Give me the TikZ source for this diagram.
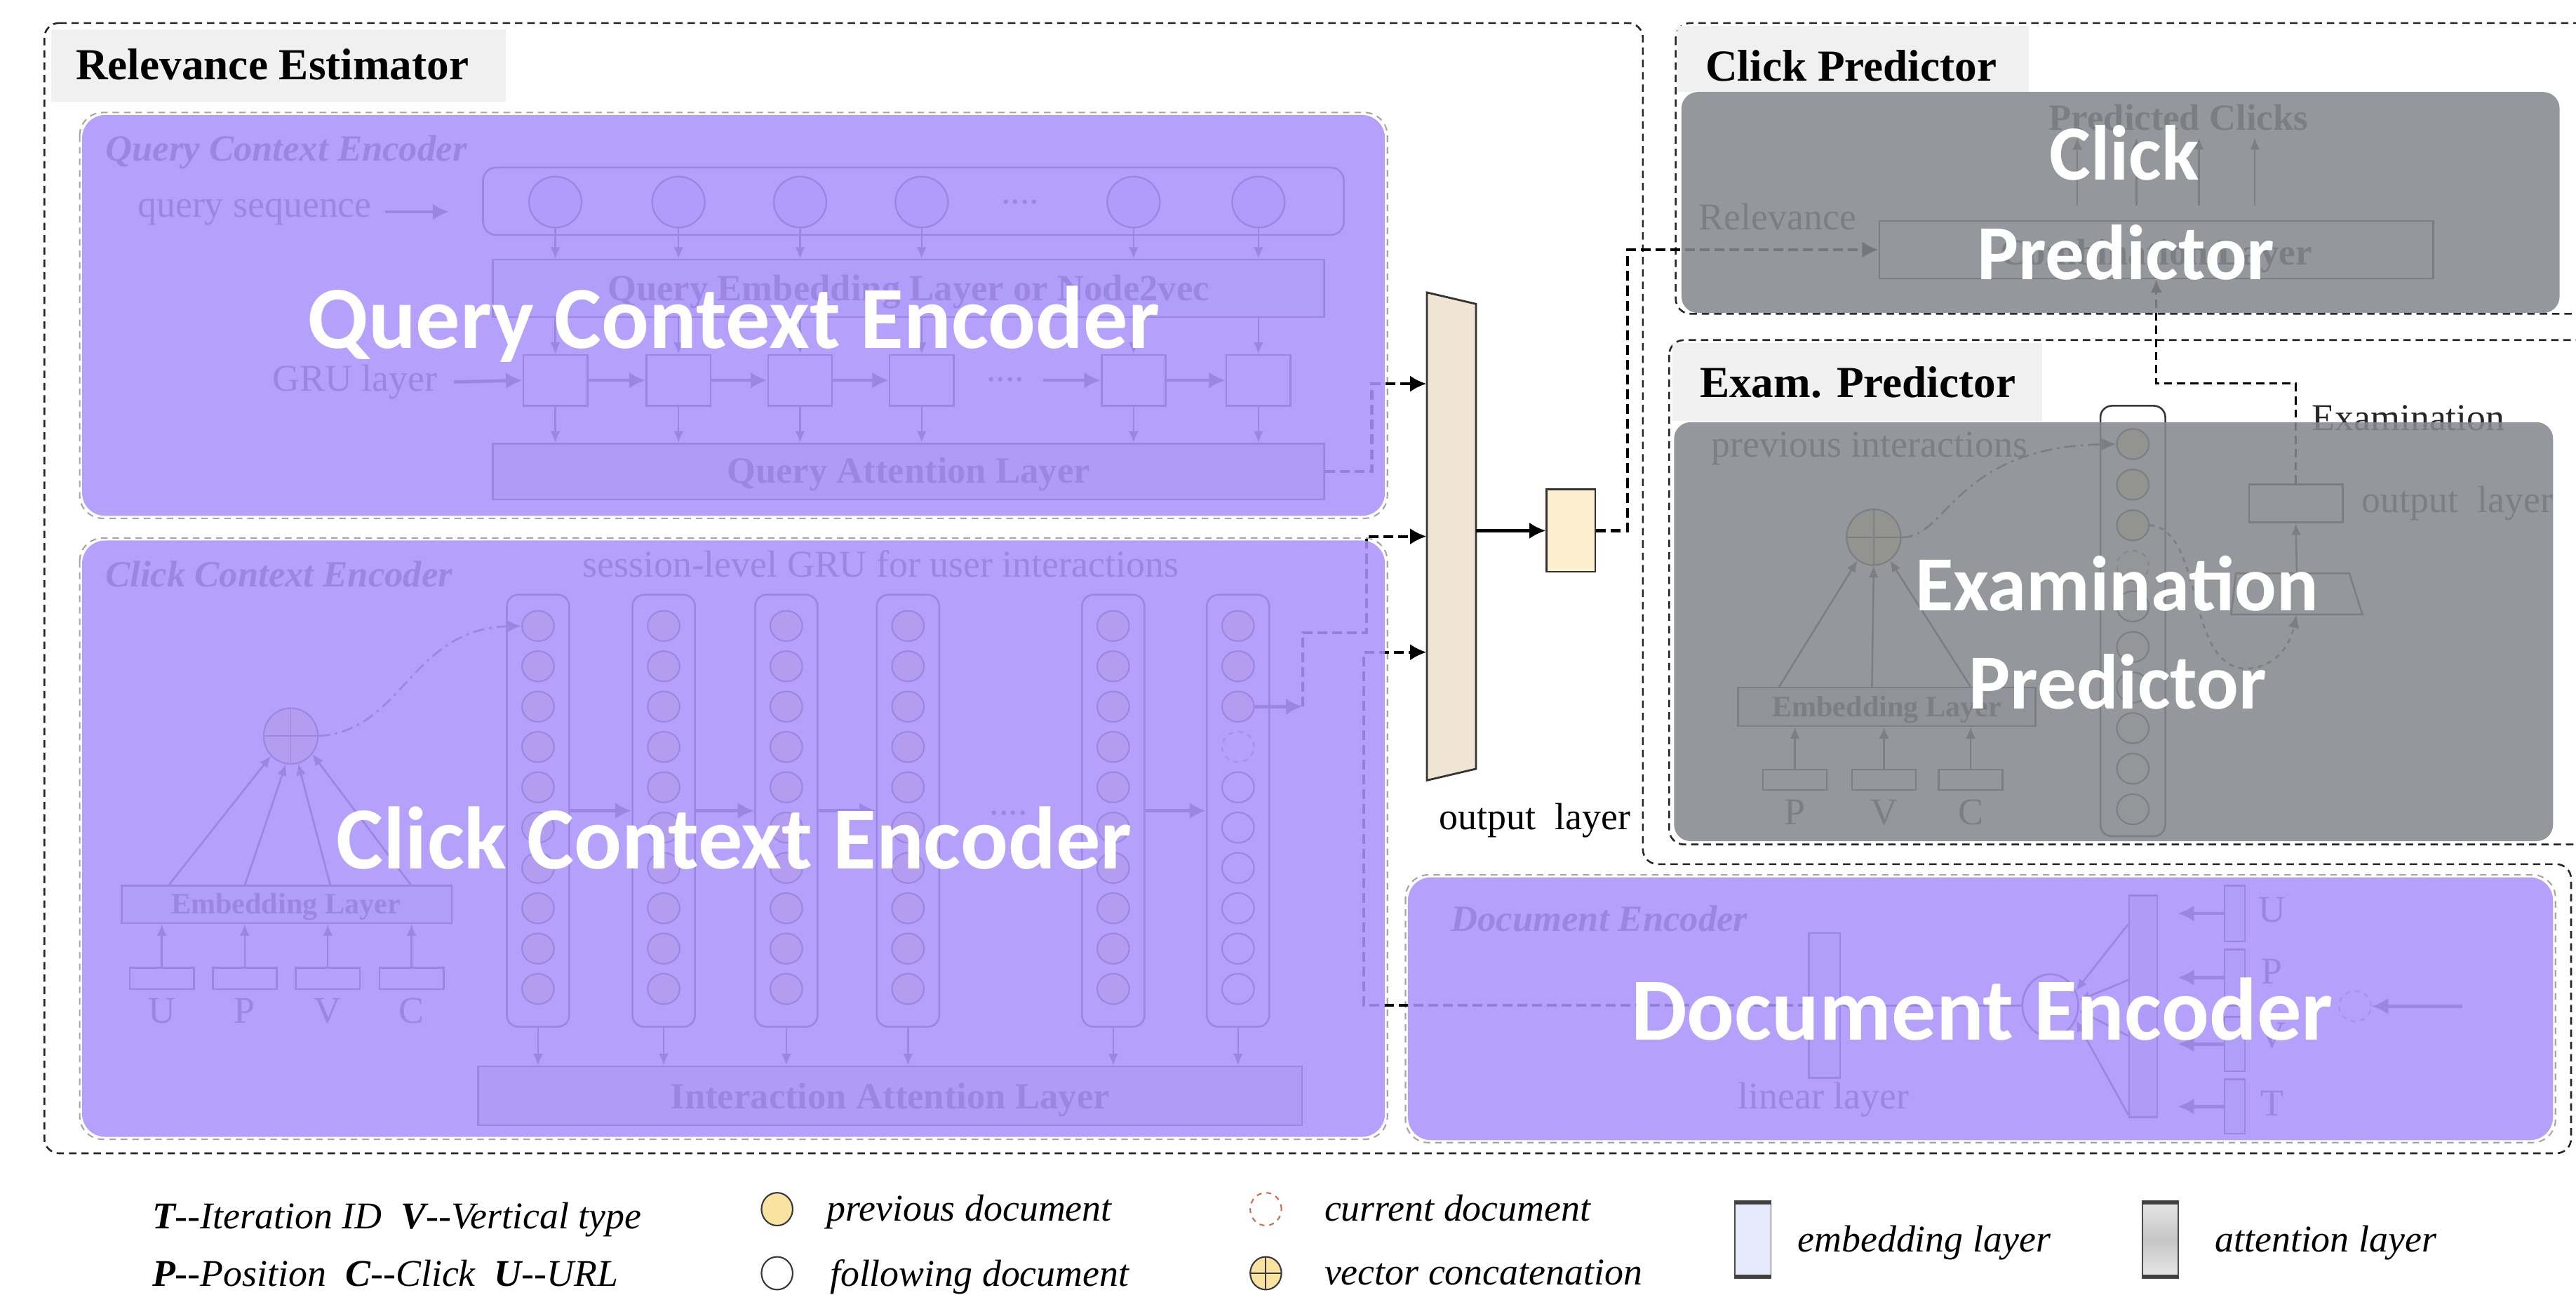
\documentclass[tikz,border=0pt]{standalone}
\usepackage{fontspec}
\setmainfont{Liberation Serif}
\newfontfamily\bigsans{Carlito}
\usetikzlibrary{arrows.meta,shapes.geometric,calc}

\definecolor{ink}{RGB}{55,55,60}
\definecolor{prevdoc}{RGB}{249,227,160}
\definecolor{curdoc}{RGB}{200,112,78}
\definecolor{embfill}{RGB}{230,234,251}
\definecolor{attfill}{RGB}{222,222,222}
\definecolor{outfill}{RGB}{240,228,212}
\definecolor{relfill}{RGB}{252,239,207}
\definecolor{tagfill}{RGB}{240,240,240}
\definecolor{qfill}{RGB}{236,224,246}
\definecolor{lilac}{RGB}{170,147,252}
\definecolor{slate}{RGB}{133,137,141}

\tikzset{
  ln/.style={draw=ink, line width=1.1pt},
  arr/.style={ln, -{Latex[length=7pt,width=6pt]}},
  fatarr/.style={draw=ink, line width=2pt, -{Latex[length=10pt,width=10pt]}},
  wire/.style={draw=black, line width=1.8pt, dash pattern=on 6pt off 3pt},
  wirearr/.style={wire, -{Latex[length=10pt,width=10pt]}},
  thinwire/.style={draw=black, line width=1.3pt, dash pattern=on 5pt off 3pt, -{Latex[length=8pt,width=7pt]}},
  outline/.style={draw=black!85, line width=1.1pt, dash pattern=on 4.5pt off 3pt, rounded corners=9pt},
  subframe/.style={draw=black!35, line width=0.9pt, dash pattern=on 4pt off 3pt, rounded corners=14pt},
  box/.style={rectangle, ln, inner sep=0},
  doc/.style={ellipse, draw=ink, line width=0.9pt, minimum width=19.5pt, minimum height=18.5pt, inner sep=0},
  prev/.style={doc, fill=prevdoc},
  follow/.style={doc, fill=white},
  cur/.style={doc, draw=curdoc, dashed, fill=white},
  concat/.style={ellipse, draw=ink, fill=prevdoc, line width=0.9pt, inner sep=0,
     path picture={\draw[ink, line width=0.8pt] (path picture bounding box.north) -- (path picture bounding box.south) (path picture bounding box.west) -- (path picture bounding box.east);}},
  lbl/.style={text=ink, font=\fontsize{22.5}{26}\selectfont\bfseries, inner sep=0},
  smalllbl/.style={text=ink, font=\fontsize{18}{20}\selectfont\bfseries, inner sep=0, anchor=base},
  txt/.style={text=ink, font=\fontsize{23}{26}\selectfont, inner sep=0},
  ital/.style={text=ink, font=\fontsize{22.5}{26}\selectfont\bfseries\itshape, inner sep=0, anchor=base west},
  tagtext/.style={font=\fontsize{27}{30}\selectfont\bfseries, inner sep=0, anchor=base west},
  veil/.style={fill=lilac, opacity=.87, rounded corners=14pt},
  greyveil/.style={fill=slate, opacity=.88, rounded corners=10pt},
  big/.style={text=white, font=\bigsans\bfseries\fontsize{54}{58}\selectfont, inner sep=0, anchor=base},
  bigp/.style={text=white, font=\bigsans\bfseries\fontsize{47.5}{52}\selectfont, inner sep=0, anchor=base},
  legend/.style={font=\fontsize{23}{26}\selectfont\itshape, inner sep=0, anchor=base west},
}

\begin{document}
\begin{tikzpicture}[x=1pt,y=-1pt]
\useasboundingbox (0,0) rectangle (1568,788);
\clip (0,0) rectangle (1568,788);

% ---------------- module frames ----------------
\draw[outline] (27,14) -- (1000,14) -- (1000,526) -- (1565,526) -- (1565,702) -- (27,702) -- cycle;
\draw[outline] (1020,14) rectangle (1590,191);
\draw[outline] (1016,207) rectangle (1590,514);

\fill[tagfill] (31,18) rectangle (308,62);
\node[tagtext] (retitle) at (46,48.4) {Relevance Estimator};
\fill[tagfill] (1021,16) rectangle (1235,56);
\node[tagtext] (cptitle) at (1038,49.4) {Click Predictor};
\fill[tagfill] (1018,209) rectangle (1243,256);
\node[tagtext] (eptitle) at (1034.5,241.7) {Exam. Predictor};

\draw[subframe] (48.5,68.5) rectangle (844.5,315.5);
\draw[subframe] (48.5,327.5) rectangle (844.5,693.5);
\draw[subframe] (855.5,532.5) rectangle (1555.5,695.5);

% ---------------- query context encoder ----------------
\node[ital] (qtitle) at (64,98) {Query Context Encoder};
\node[txt, anchor=base] (qseq) at (155,132) {query sequence};
\node[box, rounded corners=8pt, minimum width=524pt, minimum height=41pt] (qs) at (556,122.5) {};
\node[box, fill=embfill, minimum width=506pt, minimum height=35pt] (qe) at (553,175.5) {};
\node[lbl, anchor=base] (qetext) at (553,183) {Query Embedding Layer or Node2vec};
\node[box, fill=attfill, minimum width=506pt, minimum height=34pt] (qa) at (553,287) {};
\node[lbl, anchor=base] (qatext) at (553,294) {Query Attention Layer};
\foreach \ci/\x in {1/338,2/413,3/487,4/561,5/690,6/766} {
  \node[ellipse, draw=ink, fill=qfill, line width=1pt, minimum width=32pt, minimum height=31pt, inner sep=0] (q\ci) at (\x,123) {};
  \node[box, minimum width=39pt, minimum height=31pt] (g\ci) at (\x,231.5) {};
  \draw[arr] (q\ci.south) -- (q\ci.south |- qe.north);
  \draw[arr] (g\ci.north |- qe.south) -- (g\ci.north);
  \draw[arr] (g\ci.south) -- (g\ci.south |- qa.north);
}
\draw[fatarr] ($(qseq.east)+(8,0)$) -- ($(qseq.east)+(47,0)$);
\node[txt, anchor=base] (qdots) at (621,124) {....};
\node[txt, anchor=base] (grul) at (216,238) {GRU layer};
\draw[fatarr] ($(grul.east)+(10,0)$) -- (g1.west);
\draw[fatarr] (g1.east) -- (g2.west);
\draw[fatarr] (g2.east) -- (g3.west);
\draw[fatarr] (g3.east) -- (g4.west);
\node[txt, anchor=base] (gdots) at (612,232) {....};
\draw[fatarr] ($(g5.west)+(-35,0)$) -- (g5.west);
\draw[fatarr] (g5.east) -- (g6.west);

% ---------------- click context encoder ----------------
\node[ital] (ctitle) at (64,357) {Click Context Encoder};
\node[txt, anchor=base] (sess) at (536,351) {session-level GRU for user interactions};
\foreach \ci/\x in {1/327.5,2/404,3/478.6,4/552.7,5/677.6,6/753.6} {
  \node[box, rounded corners=7pt, minimum width=38pt, minimum height=263pt] (col\ci) at (\x,493.5) {};
}
\foreach \ci/\x in {1/327.5,2/404,3/478.6,4/552.7,5/677.6} {
  \foreach \kk in {0,...,9} {
    \node[prev] (c\ci\kk) at (\x,{381+24.55*\kk}) {};
  }
}
\foreach \kk in {0,1,2} \node[prev] (c6\kk) at (753.6,{381+24.55*\kk}) {};
\node[cur] (c63) at (753.6,{381+24.55*3}) {};
\foreach \kk in {4,...,9} \node[follow] (c6\kk) at (753.6,{381+24.55*\kk}) {};
\draw[fatarr] (col1.east) -- (col2.west);
\draw[fatarr] (col2.east) -- (col3.west);
\draw[fatarr] (col3.east) -- (col4.west);
\draw[fatarr] (col5.east) -- (col6.west);
\node[txt, anchor=base] (cdots) at (614,496) {....};

\node[concat, minimum width=33pt, minimum height=34pt] (cc) at (177,448) {};
\node[box, fill=embfill, minimum width=201pt, minimum height=23pt] (cemb) at (174.5,550.5) {};
\node[smalllbl] (cembtext) at (174,556) {Embedding Layer};
\foreach \n/\x/\lab in {1/98.5/U,2/149/P,3/199.5/V,4/250.5/C} {
  \node[box, minimum width=39pt, minimum height=13pt] (cin\n) at (\x,595.5) {};
  \node[txt, anchor=base] (cinl\n) at (\x,623) {\lab};
  \draw[arr] (cin\n.north) -- (cin\n.north |- cemb.south);
}
\draw[arr] ([xshift=29.5pt]cemb.north west) -- (cc.225);
\draw[arr] ([xshift=75.7pt]cemb.north west) -- (cc.260);
\draw[arr] ([xshift=127.5pt]cemb.north west) -- (cc.285);
\draw[arr] ([xshift=176.5pt]cemb.north west) -- (cc.320);
\draw[ln, dash pattern=on 7pt off 3pt on 1.5pt off 3pt, -{Latex[length=9pt,width=8pt]}]
  (cc.east) .. controls (245,445) and (250,383) .. (c10.west);

\node[box, fill=attfill, minimum width=501.5pt, minimum height=36pt] (ia) at (541.75,667) {};
\node[lbl, anchor=base] (iatext) at (541.75,675) {Interaction Attention Layer};
\foreach \ci in {1,...,6} \draw[arr] (col\ci.south) -- (col\ci.south |- ia.north);

% ---------------- document encoder ----------------
\node[ital] (dtitle) at (883,567) {Document Encoder};
\node[box, fill=embfill, minimum width=19pt, minimum height=88pt] (lin) at (1110.5,612) {};
\node[txt, anchor=base] (lintext) at (1110,675) {linear layer};
\node[ellipse, ln, minimum width=34pt, minimum height=38pt, inner sep=0] (dcirc) at (1248,612) {};
\node[box, fill=attfill, minimum width=17pt, minimum height=135pt] (datt) at (1304.5,612.5) {};
\draw[arr] ([yshift=50pt]datt.west) -- (dcirc.30);
\draw[arr] ([yshift=16pt]datt.west) -- (dcirc.10);
\draw[arr] ([yshift=-18pt]datt.west) -- (dcirc.-10);
\draw[arr] ([yshift=-66pt]datt.west) -- (dcirc.-30);
\draw[arr] (dcirc.west) -- (lin.east);
\foreach \n/\y/\hh/\bl in {U/556/34/561.5, P/595/34/599, V/635.5/33/637.6, T/673.5/33/679} {
  \node[box, fill=embfill, minimum width=12.5pt, minimum height=\hh pt] (d\n) at (1360.25,\y) {};
  \node[txt, anchor=base] (dl\n) at (1383,\bl) {\n};
  \draw[fatarr, shorten >=12pt] (d\n.west) -- (d\n.west -| datt.east);
}
\node[cur] (dcur) at (1433.5,612.5) {};
\draw[fatarr] ([xshift=55pt]dcur.east) -- (dcur.east);

% ---------------- output layer of the relevance estimator ----------------
\filldraw[fill=outfill, draw=black!80, line width=1.2pt] (868.5,178) -- (898.4,185) -- (898.4,468) -- (868.5,475) -- cycle;
\node[minimum width=29.9pt, minimum height=297pt, inner sep=0] (ol) at (883.45,326.5) {};
\node[txt, text=black, anchor=base west] (oltext) at (876,505) {output\ \ layer};
\node[box, draw=black!80, fill=relfill, line width=1.2pt, minimum width=29.5pt, minimum height=50pt] (rel) at (956.25,323) {};
\draw[black, line width=1.8pt, -{Latex[length=10pt,width=10pt]}] (ol.east |- rel.west) -- (rel.west);

\draw[wirearr] (qa.east) -- ++(28.5,0) |- ([yshift=92.9pt]ol.west);
\draw[fatarr] (c62.east) -- ++(29,0) coordinate (cout);
\draw[wirearr] (cout) -- ++(0,-45) -- ++(39,0) |- (ol.west);
\draw[wirearr] (lin.west) -- ++(-270.5,0) |- ([yshift=-70.5pt]ol.west);

% ---------------- click predictor ----------------
\node[box, minimum width=337pt, minimum height=35pt] (comb) at (1312.5,152) {};
\node[lbl, anchor=base] (combtext) at (1312.5,161) {Combination Layer};
\node[lbl, anchor=base] (pctext) at (1326,79) {Predicted Clicks};
\foreach \dx in {121,157,195,229} \draw[arr] ($(comb.north west)+(\dx,-9)$) -- ++(0,-41);
\node[txt, anchor=base] (reltext) at (1082,140) {Relevance};
\draw[wire, -{Latex[length=10pt,width=10pt]}] (rel.east) -- ++(19,0) |- (comb.west);

% ---------------- examination predictor ----------------
\node[txt, anchor=base] (prevint) at (1138,278) {previous interactions};
\node[box, rounded corners=7pt, minimum width=39.5pt, minimum height=262pt] (ecol) at (1298.25,378) {};
\foreach \kk in {0,1,2} \node[prev] (e\kk) at (1298.25,{270.3+24.7*\kk}) {};
\node[cur] (e3) at (1298.25,{270.3+24.7*3}) {};
\foreach \kk in {4,...,9} \node[follow] (e\kk) at (1298.25,{270.3+24.7*\kk}) {};
\node[concat, minimum width=33pt, minimum height=34pt] (ec) at (1140.5,327) {};
\node[box, fill=embfill, minimum width=181pt, minimum height=23.5pt] (eemb) at (1148.5,430.25) {};
\node[smalllbl] (eembtext) at (1148.5,436) {Embedding Layer};
\foreach \n/\x/\lab in {1/1092.5/P,2/1146.75/V,3/1199.5/C} {
  \node[box, minimum width=39pt, minimum height=12.3pt] (ein\n) at (\x,474.6) {};
  \node[txt, anchor=base] (einl\n) at (\x,502) {\lab};
  \draw[arr] (ein\n.north) -- (ein\n.north |- eemb.south);
}
\draw[arr] ([xshift=25.5pt]eemb.north west) -- (ec.235);
\draw[arr] ([xshift=82pt]eemb.north west) -- (ec.270);
\draw[arr] ([xshift=142pt]eemb.north west) -- (ec.305);
\draw[ln, dash pattern=on 7pt off 3pt on 1.5pt off 3pt, -{Latex[length=9pt,width=8pt]}]
  (ec.east) .. controls (1185,328) and (1190,272) .. (e0.west);
\node[box, minimum width=57pt, minimum height=23.2pt] (eout) at (1397.5,306.4) {};
\node[txt, anchor=base west] (eouttext) at (1437.5,312) {output\ \ layer};
\draw[ln] (1361,349) -- (1430,349) -- (1438,374) -- (1358,374) -- cycle;
\node[minimum width=80pt, minimum height=25pt, inner sep=0] (etz) at (1398,361.5) {};
\draw[arr] (etz.north) -- (eout.south);
\draw[ln, dashed, -{Latex[length=8pt,width=7pt]}]
  (e2.east) .. controls (1342,322) and (1330,408) .. (1368,407) .. controls (1386,406) and (1394,392) .. (etz.south);
\node[txt, text=black!85, anchor=base west] (examtext) at (1407,262) {Examination};
\draw[thinwire] (eout.north) |- ($(comb.south)+(0,63.5)$) -- (comb.south);

% ---------------- highlight panels ----------------
\fill[veil] (50,70) rectangle (843,314);
\fill[veil] (50,329) rectangle (843,692);
\fill[veil] (857,534) rectangle (1554,694);
\fill[greyveil] (1023.5,56) rectangle (1558,190.5);
\fill[greyveil] (1019,257) rectangle (1554,512);

\node[big] (qbig) at (446.5,212) {Query Context Encoder};
\node[big] (cbig) at (447,529) {Click Context Encoder};
\node[big] (dbig) at (1206.5,633) {Document Encoder};
\node[bigp] (cpbig1) at (1293,109.5) {Click};
\node[bigp] (cpbig2) at (1294,170) {Predictor};
\node[bigp] (epbig1) at (1288.5,371.5) {Examination};
\node[bigp] (epbig2) at (1289,431.7) {Predictor};

% ---------------- legend ----------------
\node[legend] (lg1) at (92.5,748) {\textbf{T}-{}-Iteration ID\ \ \textbf{V}-{}-Vertical type};
\node[legend] (lg2) at (92.5,783) {\textbf{P}-{}-Position\ \ \textbf{C}-{}-Click\ \ \textbf{U}-{}-URL};
\node[prev, minimum width=19pt, minimum height=20pt] (lgprev) at (473,736) {};
\node[legend] (lgprevt) at (503,743) {previous document};
\node[follow, minimum width=19pt, minimum height=20pt] (lgfol) at (473,775) {};
\node[legend] (lgfolt) at (505,783) {following document};
\node[cur, minimum width=19pt, minimum height=20pt] (lgcur) at (770.5,736) {};
\node[legend] (lgcurt) at (806,743) {current document};
\node[concat, minimum width=19pt, minimum height=20pt] (lgcat) at (770.5,775) {};
\node[legend] (lgcatt) at (806,782) {vector concatenation};
\filldraw[fill=embfill, draw=black!70, line width=0.8pt] (1056,731) rectangle (1078,778);
\draw[black!75, line width=2.2pt] (1056,732) -- (1078,732) (1056,777) -- (1078,777);
\node[legend] (lgemb) at (1094,762) {embedding layer};
\shade[top color=gray!18, bottom color=gray!18, middle color=gray!45] (1304,731) rectangle (1326,778);
\draw[black!70, line width=0.8pt] (1304,731) rectangle (1326,778);
\draw[black!75, line width=2.2pt] (1304,732) -- (1326,732) (1304,777) -- (1326,777);
\node[legend] (lgatt) at (1348,762) {attention layer};
\end{tikzpicture}
\end{document}
